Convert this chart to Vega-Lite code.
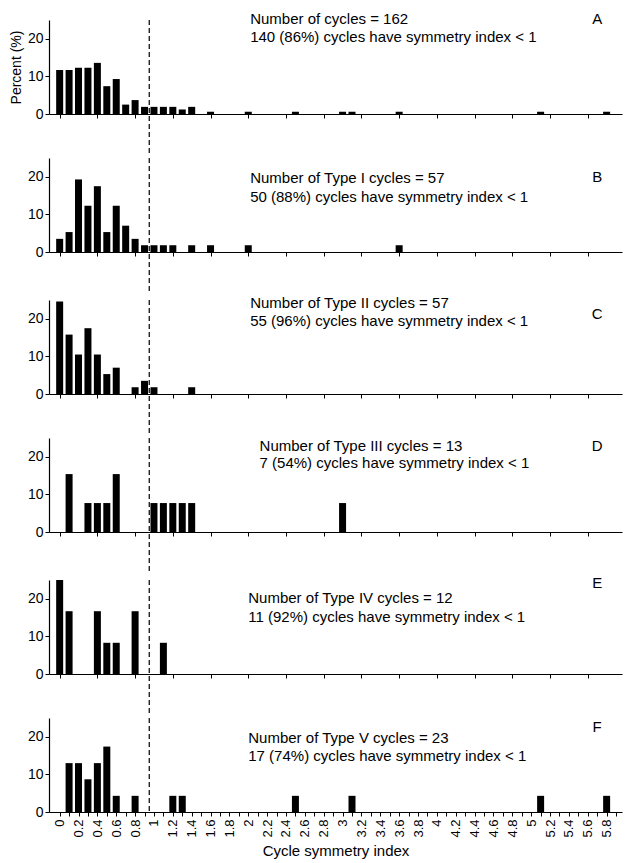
{
  "$schema": "https://vega.github.io/schema/vega-lite/v6.json",
  "padding": {"left": 9, "top": 11, "right": 5, "bottom": 2},
  "spacing": 0,
  "datasets": {
    "A": [{"x":0,"pct":11.7},{"x":0.1,"pct":11.7},{"x":0.2,"pct":12.3},{"x":0.3,"pct":12.3},{"x":0.4,"pct":13.6},{"x":0.5,"pct":7.4},{"x":0.6,"pct":9.3},{"x":0.7,"pct":2.5},{"x":0.8,"pct":3.7},{"x":0.9,"pct":1.9},{"x":1.0,"pct":1.9},{"x":1.1,"pct":1.9},{"x":1.2,"pct":1.9},{"x":1.3,"pct":1.2},{"x":1.4,"pct":1.9},{"x":1.6,"pct":0.6},{"x":2.0,"pct":0.6},{"x":2.5,"pct":0.6},{"x":3.0,"pct":0.6},{"x":3.1,"pct":0.6},{"x":3.6,"pct":0.6},{"x":5.1,"pct":0.6},{"x":5.8,"pct":0.6}],
    "B": [{"x":0,"pct":3.5},{"x":0.1,"pct":5.3},{"x":0.2,"pct":19.3},{"x":0.3,"pct":12.3},{"x":0.4,"pct":17.5},{"x":0.5,"pct":5.3},{"x":0.6,"pct":12.3},{"x":0.7,"pct":7.0},{"x":0.8,"pct":3.5},{"x":0.9,"pct":1.8},{"x":1.0,"pct":1.8},{"x":1.1,"pct":1.8},{"x":1.2,"pct":1.8},{"x":1.4,"pct":1.8},{"x":1.6,"pct":1.8},{"x":2.0,"pct":1.8},{"x":3.6,"pct":1.8}],
    "C": [{"x":0,"pct":24.6},{"x":0.1,"pct":15.8},{"x":0.2,"pct":10.5},{"x":0.3,"pct":17.5},{"x":0.4,"pct":10.5},{"x":0.5,"pct":5.3},{"x":0.6,"pct":7.0},{"x":0.8,"pct":1.8},{"x":0.9,"pct":3.5},{"x":1.0,"pct":1.8},{"x":1.4,"pct":1.8}],
    "D": [{"x":0.1,"pct":15.4},{"x":0.3,"pct":7.7},{"x":0.4,"pct":7.7},{"x":0.5,"pct":7.7},{"x":0.6,"pct":15.4},{"x":1.0,"pct":7.7},{"x":1.1,"pct":7.7},{"x":1.2,"pct":7.7},{"x":1.3,"pct":7.7},{"x":1.4,"pct":7.7},{"x":3.0,"pct":7.7}],
    "E": [{"x":0,"pct":25.0},{"x":0.1,"pct":16.7},{"x":0.4,"pct":16.7},{"x":0.5,"pct":8.3},{"x":0.6,"pct":8.3},{"x":0.8,"pct":16.7},{"x":1.1,"pct":8.3}],
    "F": [{"x":0.1,"pct":13.0},{"x":0.2,"pct":13.0},{"x":0.3,"pct":8.7},{"x":0.4,"pct":13.0},{"x":0.5,"pct":17.4},{"x":0.6,"pct":4.3},{"x":0.8,"pct":4.3},{"x":1.2,"pct":4.3},{"x":1.3,"pct":4.3},{"x":2.5,"pct":4.3},{"x":3.1,"pct":4.3},{"x":5.1,"pct":4.3},{"x":5.8,"pct":4.3}],
    "one": [{}]
  },
  "vconcat": [
    {
      "width": 573, "height": 94,
      "layer": [
        {"data": {"name": "A"}, "mark": {"type": "bar", "width": 7, "color": "black"},
         "encoding": {
           "x": {"field": "x", "type": "quantitative", "scale": {"domain": [-0.06, 5.91], "nice": false, "zero": false}, "axis": {"labels": false, "title": null, "values": [0,0.1,0.2,0.3,0.4,0.5,0.6,0.7,0.8,0.9,1,1.1,1.2,1.3,1.4,1.5,1.6,1.7,1.8,1.9,2,2.1,2.2,2.3,2.4,2.5,2.6,2.7,2.8,2.9,3,3.1,3.2,3.3,3.4,3.5,3.6,3.7,3.8,3.9,4,4.1,4.2,4.3,4.4,4.5,4.6,4.7,4.8,4.9,5,5.1,5.2,5.3,5.4,5.5,5.6,5.7,5.8,5.9]}},
           "y": {"field": "pct", "type": "quantitative", "scale": {"domain": [0, 25], "nice": false}, "axis": {"title": "Percent (%)"}}}},
        {"data": {"name": "one"}, "mark": {"type": "rule", "strokeDash": [5, 3], "strokeWidth": 1.2, "color": "black"},
         "encoding": {"x": {"datum": 0.95, "type": "quantitative"}, "y": {"datum": 25, "type": "quantitative"}, "y2": {"datum": -11.2}}},
        {"data": {"name": "one"}, "mark": {"type": "text", "align": "left", "baseline": "middle", "fontSize": 15},
         "encoding": {"x": {"datum": 2.02, "type": "quantitative"}, "y": {"datum": 25.3, "type": "quantitative"}, "text": {"value": "Number of cycles = 162"}}},
        {"data": {"name": "one"}, "mark": {"type": "text", "align": "left", "baseline": "middle", "fontSize": 15},
         "encoding": {"x": {"datum": 2.02, "type": "quantitative"}, "y": {"datum": 20.6, "type": "quantitative"}, "text": {"value": "140 (86%) cycles have symmetry index < 1"}}},
        {"data": {"name": "one"}, "mark": {"type": "text", "align": "center", "baseline": "middle", "fontSize": 15},
         "encoding": {"x": {"datum": 5.7, "type": "quantitative"}, "y": {"datum": 25.3, "type": "quantitative"}, "text": {"value": "A"}}}
      ]
    },
    {
      "width": 573, "height": 94,
      "layer": [
        {"data": {"name": "B"}, "mark": {"type": "bar", "width": 7, "color": "black"},
         "encoding": {
           "x": {"field": "x", "type": "quantitative", "scale": {"domain": [-0.06, 5.91], "nice": false, "zero": false}, "axis": {"labels": false, "title": null, "values": [0,0.1,0.2,0.3,0.4,0.5,0.6,0.7,0.8,0.9,1,1.1,1.2,1.3,1.4,1.5,1.6,1.7,1.8,1.9,2,2.1,2.2,2.3,2.4,2.5,2.6,2.7,2.8,2.9,3,3.1,3.2,3.3,3.4,3.5,3.6,3.7,3.8,3.9,4,4.1,4.2,4.3,4.4,4.5,4.6,4.7,4.8,4.9,5,5.1,5.2,5.3,5.4,5.5,5.6,5.7,5.8,5.9]}},
           "y": {"field": "pct", "type": "quantitative", "scale": {"domain": [0, 25], "nice": false}, "axis": {"title": null}}}},
        {"data": {"name": "one"}, "mark": {"type": "rule", "strokeDash": [5, 3], "strokeWidth": 1.2, "color": "black"},
         "encoding": {"x": {"datum": 0.95, "type": "quantitative"}, "y": {"datum": 25, "type": "quantitative"}, "y2": {"datum": -11.2}}},
        {"data": {"name": "one"}, "mark": {"type": "text", "align": "left", "baseline": "middle", "fontSize": 15},
         "encoding": {"x": {"datum": 2.02, "type": "quantitative"}, "y": {"datum": 19.7, "type": "quantitative"}, "text": {"value": "Number of Type I cycles = 57"}}},
        {"data": {"name": "one"}, "mark": {"type": "text", "align": "left", "baseline": "middle", "fontSize": 15},
         "encoding": {"x": {"datum": 2.02, "type": "quantitative"}, "y": {"datum": 14.6, "type": "quantitative"}, "text": {"value": "50 (88%) cycles have symmetry index < 1"}}},
        {"data": {"name": "one"}, "mark": {"type": "text", "align": "center", "baseline": "middle", "fontSize": 15},
         "encoding": {"x": {"datum": 5.7, "type": "quantitative"}, "y": {"datum": 20, "type": "quantitative"}, "text": {"value": "B"}}}
      ]
    },
    {
      "width": 573, "height": 94,
      "layer": [
        {"data": {"name": "C"}, "mark": {"type": "bar", "width": 7, "color": "black"},
         "encoding": {
           "x": {"field": "x", "type": "quantitative", "scale": {"domain": [-0.06, 5.91], "nice": false, "zero": false}, "axis": {"labels": false, "title": null, "values": [0,0.1,0.2,0.3,0.4,0.5,0.6,0.7,0.8,0.9,1,1.1,1.2,1.3,1.4,1.5,1.6,1.7,1.8,1.9,2,2.1,2.2,2.3,2.4,2.5,2.6,2.7,2.8,2.9,3,3.1,3.2,3.3,3.4,3.5,3.6,3.7,3.8,3.9,4,4.1,4.2,4.3,4.4,4.5,4.6,4.7,4.8,4.9,5,5.1,5.2,5.3,5.4,5.5,5.6,5.7,5.8,5.9]}},
           "y": {"field": "pct", "type": "quantitative", "scale": {"domain": [0, 25], "nice": false}, "axis": {"title": null}}}},
        {"data": {"name": "one"}, "mark": {"type": "rule", "strokeDash": [5, 3], "strokeWidth": 1.2, "color": "black"},
         "encoding": {"x": {"datum": 0.95, "type": "quantitative"}, "y": {"datum": 25, "type": "quantitative"}, "y2": {"datum": -11.2}}},
        {"data": {"name": "one"}, "mark": {"type": "text", "align": "left", "baseline": "middle", "fontSize": 15},
         "encoding": {"x": {"datum": 2.02, "type": "quantitative"}, "y": {"datum": 24.3, "type": "quantitative"}, "text": {"value": "Number of Type II cycles = 57"}}},
        {"data": {"name": "one"}, "mark": {"type": "text", "align": "left", "baseline": "middle", "fontSize": 15},
         "encoding": {"x": {"datum": 2.02, "type": "quantitative"}, "y": {"datum": 19.5, "type": "quantitative"}, "text": {"value": "55 (96%) cycles have symmetry index < 1"}}},
        {"data": {"name": "one"}, "mark": {"type": "text", "align": "center", "baseline": "middle", "fontSize": 15},
         "encoding": {"x": {"datum": 5.7, "type": "quantitative"}, "y": {"datum": 21.3, "type": "quantitative"}, "text": {"value": "C"}}}
      ]
    },
    {
      "width": 573, "height": 94,
      "layer": [
        {"data": {"name": "D"}, "mark": {"type": "bar", "width": 7, "color": "black"},
         "encoding": {
           "x": {"field": "x", "type": "quantitative", "scale": {"domain": [-0.06, 5.91], "nice": false, "zero": false}, "axis": {"labels": false, "title": null, "values": [0,0.1,0.2,0.3,0.4,0.5,0.6,0.7,0.8,0.9,1,1.1,1.2,1.3,1.4,1.5,1.6,1.7,1.8,1.9,2,2.1,2.2,2.3,2.4,2.5,2.6,2.7,2.8,2.9,3,3.1,3.2,3.3,3.4,3.5,3.6,3.7,3.8,3.9,4,4.1,4.2,4.3,4.4,4.5,4.6,4.7,4.8,4.9,5,5.1,5.2,5.3,5.4,5.5,5.6,5.7,5.8,5.9]}},
           "y": {"field": "pct", "type": "quantitative", "scale": {"domain": [0, 25], "nice": false}, "axis": {"title": null}}}},
        {"data": {"name": "one"}, "mark": {"type": "rule", "strokeDash": [5, 3], "strokeWidth": 1.2, "color": "black"},
         "encoding": {"x": {"datum": 0.95, "type": "quantitative"}, "y": {"datum": 25, "type": "quantitative"}, "y2": {"datum": -11.2}}},
        {"data": {"name": "one"}, "mark": {"type": "text", "align": "left", "baseline": "middle", "fontSize": 15},
         "encoding": {"x": {"datum": 2.12, "type": "quantitative"}, "y": {"datum": 22.9, "type": "quantitative"}, "text": {"value": "Number of Type III cycles = 13"}}},
        {"data": {"name": "one"}, "mark": {"type": "text", "align": "left", "baseline": "middle", "fontSize": 15},
         "encoding": {"x": {"datum": 2.12, "type": "quantitative"}, "y": {"datum": 18.3, "type": "quantitative"}, "text": {"value": "7 (54%) cycles have symmetry index < 1"}}},
        {"data": {"name": "one"}, "mark": {"type": "text", "align": "center", "baseline": "middle", "fontSize": 15},
         "encoding": {"x": {"datum": 5.7, "type": "quantitative"}, "y": {"datum": 22.9, "type": "quantitative"}, "text": {"value": "D"}}}
      ]
    },
    {
      "width": 573, "height": 94,
      "layer": [
        {"data": {"name": "E"}, "mark": {"type": "bar", "width": 7, "color": "black"},
         "encoding": {
           "x": {"field": "x", "type": "quantitative", "scale": {"domain": [-0.06, 5.91], "nice": false, "zero": false}, "axis": {"labels": false, "title": null, "values": [0,0.1,0.2,0.3,0.4,0.5,0.6,0.7,0.8,0.9,1,1.1,1.2,1.3,1.4,1.5,1.6,1.7,1.8,1.9,2,2.1,2.2,2.3,2.4,2.5,2.6,2.7,2.8,2.9,3,3.1,3.2,3.3,3.4,3.5,3.6,3.7,3.8,3.9,4,4.1,4.2,4.3,4.4,4.5,4.6,4.7,4.8,4.9,5,5.1,5.2,5.3,5.4,5.5,5.6,5.7,5.8,5.9]}},
           "y": {"field": "pct", "type": "quantitative", "scale": {"domain": [0, 25], "nice": false}, "axis": {"title": null}}}},
        {"data": {"name": "one"}, "mark": {"type": "rule", "strokeDash": [5, 3], "strokeWidth": 1.2, "color": "black"},
         "encoding": {"x": {"datum": 0.95, "type": "quantitative"}, "y": {"datum": 25, "type": "quantitative"}, "y2": {"datum": -11.2}}},
        {"data": {"name": "one"}, "mark": {"type": "text", "align": "left", "baseline": "middle", "fontSize": 15},
         "encoding": {"x": {"datum": 2.0, "type": "quantitative"}, "y": {"datum": 20.3, "type": "quantitative"}, "text": {"value": "Number of Type IV cycles = 12"}}},
        {"data": {"name": "one"}, "mark": {"type": "text", "align": "left", "baseline": "middle", "fontSize": 15},
         "encoding": {"x": {"datum": 2.0, "type": "quantitative"}, "y": {"datum": 15.2, "type": "quantitative"}, "text": {"value": "11 (92%) cycles have symmetry index < 1"}}},
        {"data": {"name": "one"}, "mark": {"type": "text", "align": "center", "baseline": "middle", "fontSize": 15},
         "encoding": {"x": {"datum": 5.7, "type": "quantitative"}, "y": {"datum": 24.3, "type": "quantitative"}, "text": {"value": "E"}}}
      ]
    },
    {
      "width": 573, "height": 94,
      "resolve": {"axis": {"x": "independent"}},
      "layer": [
        {"data": {"name": "F"}, "mark": {"type": "bar", "width": 7, "color": "black"},
         "encoding": {
           "x": {"field": "x", "type": "quantitative", "scale": {"domain": [-0.06, 5.91], "nice": false, "zero": false},
                 "axis": {"orient": "bottom", "title": "Cycle symmetry index", "labelOverlap": false, "labelFlush": false, "labelBound": false, "labelAngle": -90, "format": "~g",
                          "values": [0,0.2,0.4,0.6,0.8,1,1.2,1.4,1.6,1.8,2,2.2,2.4,2.6,2.8,3,3.2,3.4,3.6,3.8,4,4.2,4.4,4.6,4.8,5,5.2,5.4,5.6,5.8]}},
           "y": {"field": "pct", "type": "quantitative", "scale": {"domain": [0, 25], "nice": false}, "axis": {"title": null}}}},
        {"data": {"name": "F"}, "mark": {"type": "point", "opacity": 0},
         "encoding": {
           "x": {"field": "x", "type": "quantitative",
                 "axis": {"orient": "bottom", "labels": false, "title": null, "domain": false,
                          "values": [0.1,0.3,0.5,0.7,0.9,1.1,1.3,1.5,1.7,1.9,2.1,2.3,2.5,2.7,2.9,3.1,3.3,3.5,3.7,3.9,4.1,4.3,4.5,4.7,4.9,5.1,5.3,5.5,5.7,5.9]}},
           "y": {"field": "pct", "type": "quantitative"}}},
        {"data": {"name": "one"}, "mark": {"type": "rule", "strokeDash": [5, 3], "strokeWidth": 1.2, "color": "black"},
         "encoding": {"x": {"datum": 0.95, "type": "quantitative", "axis": null}, "y": {"datum": 25, "type": "quantitative"}, "y2": {"datum": 0}}},
        {"data": {"name": "one"}, "mark": {"type": "text", "align": "left", "baseline": "middle", "fontSize": 15},
         "encoding": {"x": {"datum": 2.0, "type": "quantitative", "axis": null}, "y": {"datum": 19.6, "type": "quantitative"}, "text": {"value": "Number of Type V cycles = 23"}}},
        {"data": {"name": "one"}, "mark": {"type": "text", "align": "left", "baseline": "middle", "fontSize": 15},
         "encoding": {"x": {"datum": 2.0, "type": "quantitative", "axis": null}, "y": {"datum": 15.0, "type": "quantitative"}, "text": {"value": "17 (74%) cycles have symmetry index < 1"}}},
        {"data": {"name": "one"}, "mark": {"type": "text", "align": "center", "baseline": "middle", "fontSize": 15},
         "encoding": {"x": {"datum": 5.7, "type": "quantitative", "axis": null}, "y": {"datum": 22.7, "type": "quantitative"}, "text": {"value": "F"}}}
      ]
    }
  ],
  "config": {
    "font": "Liberation Sans",
    "view": {"stroke": null},
    "text": {"font": "Liberation Sans", "color": "black"},
    "axis": {
      "domainColor": "black", "tickColor": "black", "labelColor": "black", "titleColor": "black",
      "grid": false, "tickSize": 4, "domainWidth": 1.2, "tickWidth": 1,
      "labelFont": "Liberation Sans", "titleFont": "Liberation Sans", "titleFontWeight": "normal"
    },
    "axisX": {
      "labelFontSize": 13, "labelPadding": 3,
      "titleFontSize": 15, "titlePadding": 6
    },
    "axisY": {
      "labelExpr": "datum.value % 10 == 0 ? datum.label : ''",
      "labelFontSize": 14, "labelPadding": 2, "titleFontSize": 14, "titlePadding": 4
    }
  }
}
